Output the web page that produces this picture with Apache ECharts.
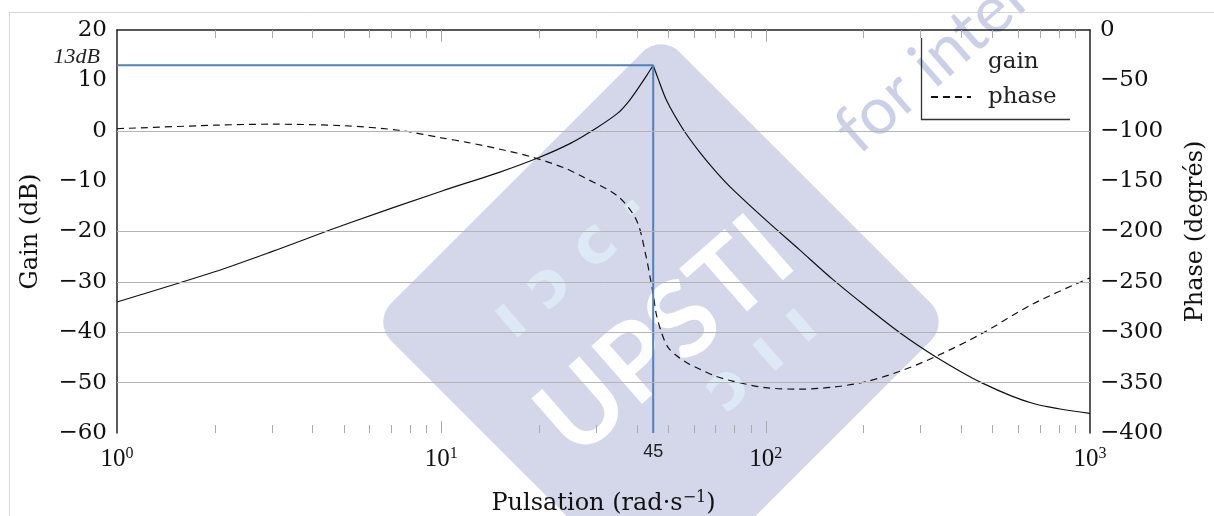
<!DOCTYPE html>
<html>
<head>
<meta charset="utf-8">
<title>Bode</title>
<script src="https://cdn.jsdelivr.net/npm/echarts@6/dist/echarts.min.js"></script>
<style>
  html, body { margin: 0; padding: 0; background: #fff; }
  #chart { width: 1214px; height: 516px; }
</style>
</head>
<body>
<div id="chart"></div>
<script>
// gain curve (dB) vs pulsation (rad/s)
const omegaGain = [1, 2, 3, 5, 10, 15, 20, 25, 30, 35, 38, 41, 43, 45, 46.5, 49.5, 55.5, 62.5, 70, 79, 100, 127, 161, 204, 258, 335, 466, 665, 1000]
const gainDb = [-34, -28, -24, -18.7, -12, -8.3, -5.3, -2.5, 0.5, 3.5, 6, 9, 11, 13, 10.5, 6, 0.4, -4.2, -8, -11.6, -17.7, -23.6, -29.5, -34.9, -40, -44.9, -50.1, -54.1, -56.1]

// phase curve (degrees)
const omegaPhase = [1, 2, 3, 5, 7.4, 10, 12, 15, 19, 24, 27, 35, 40, 42.8, 44, 45, 46, 47.7, 50, 54, 58, 62.5, 70, 79, 100, 127, 161, 204, 258, 335, 466, 665, 1000]
const phaseDeg = [-98, -94.5, -93.5, -95, -99.5, -107, -111.5, -118, -126, -137, -145, -165, -189, -225, -245, -262, -282, -300, -315, -325, -331.5, -336.5, -343.5, -348.5, -355, -356.5, -354.5, -349, -339, -324, -301, -272, -246]

// resonance marker
const peakOmega = 45
const peakDb = 13

// horizontal grid levels drawn in the figure (dB)
const gridDb = [0, -20, -30, -40, -50]

// x ticks
const minorTicks = [2, 3, 4, 5, 6, 7, 8, 9, 20, 30, 40, 50, 60, 70, 80, 90, 200, 300, 400, 500, 600, 700, 800, 900]
const majorTicks = [10, 100]

const serif = 'DejaVu Serif'
const minus = v => (v < 0 ? '\u2212' + Math.abs(v) : String(v))

const gainPts = omegaGain.map((w, i) => [w, gainDb[i]])
const gainRise = gainPts.filter(p => p[0] <= peakOmega)
const gainFall = gainPts.filter(p => p[0] >= peakOmega)

const chart = echarts.init(document.getElementById('chart'))

function renderTick(params, api) {
  const w = api.value(0)
  const len = api.value(1) ? 12 : 8
  const b = api.coord([w, -60])
  const t = api.coord([w, 20])
  const x = Math.round(b[0]) + 0.5
  return {
    type: 'group',
    children: [
      { type: 'line', shape: { x1: x, y1: b[1], x2: x, y2: b[1] - len }, style: { stroke: '#aaaaaa', lineWidth: 1 } },
      { type: 'line', shape: { x1: x, y1: t[1], x2: x, y2: t[1] + len }, style: { stroke: '#aaaaaa', lineWidth: 1 } }
    ]
  }
}

const gainLine = { color: '#111', width: 1.2 }

const option = {
  animation: false,
  backgroundColor: '#fff',
  grid: { left: 117, right: 124, top: 30, bottom: 83, outerBoundsMode: 'none', containLabel: false },
  graphic: [
    { type: 'line', shape: { x1: 9, y1: 12.5, x2: 1214, y2: 12.5 }, style: { stroke: '#d6d6d6', lineWidth: 1 }, z: 0 },
    { type: 'line', shape: { x1: 9.5, y1: 12.5, x2: 9.5, y2: 516 }, style: { stroke: '#d6d6d6', lineWidth: 1 }, z: 0 },
    {
      type: 'group', x: 661, y: 322, rotation: Math.PI / 4, z: 0,
      children: [
        { type: 'rect', shape: { x: -204, y: -204, width: 408, height: 408, r: 26 }, style: { fill: '#d4d7e9' } }
      ]
    },
    {
      type: 'group', x: 661, y: 320, rotation: 0.72, z: 0,
      children: [
        { type: 'text', x: -8, y: 16, style: { text: 'UPSTI', fill: '#ffffff', font: 'bold 106px Lato', align: 'center', verticalAlign: 'middle' } },
        { type: 'text', x: -30, y: -98, style: { text: 'ı ɔ c ·', fill: '#dde9f5', font: 'bold 64px "DejaVu Sans"', align: 'center', verticalAlign: 'middle' } },
        { type: 'text', x: 50, y: 97, style: { text: 'ɔ ı ı', fill: '#dde9f5', font: 'bold 64px "DejaVu Sans"', align: 'center', verticalAlign: 'middle' } }
      ]
    },
    {
      type: 'text', x: 845, y: 140, rotation: 0.72, z: 0,
      style: { text: 'for internal use', fill: '#cbd0e8', font: '66px Lato', align: 'left', verticalAlign: 'middle' }
    },
    {
      type: 'polyline', z: 10,
      shape: { points: [[921.5, 38], [921.5, 119.5], [1070, 119.5]] },
      style: { stroke: '#333', lineWidth: 1.3, fill: null }
    }
  ],
  legend: {
    orient: 'vertical',
    left: 930,
    top: 49,
    padding: 0,
    itemGap: 9,
    itemWidth: 40,
    itemHeight: 14,
    textStyle: { fontFamily: serif, fontSize: 23, color: '#222', lineHeight: 26, padding: [0, 0, 0, 12] },
    data: [
      { name: 'gain', lineStyle: { opacity: 0 }, itemStyle: { opacity: 0 } },
      { name: 'phase', itemStyle: { opacity: 0 } }
    ]
  },
  xAxis: [
    {
      type: 'log', logBase: 10, min: 1, max: 1000, position: 'bottom', z: 5,
      axisLine: { show: false, onZero: false },
      axisTick: { show: false },
      splitLine: { show: false },
      axisLabel: {
        margin: 13,
        formatter: v => '{b|10}{s|' + Math.round(Math.log10(v)) + '}',
        rich: {
          b: { fontFamily: 'Liberation Serif', fontSize: 25, color: '#111', lineHeight: 26 },
          s: { fontFamily: 'Liberation Serif', fontSize: 16, color: '#111', lineHeight: 14, verticalAlign: 'top' }
        }
      },
      name: 'Pulsation (rad·s{s|\u22121})',
      nameLocation: 'middle',
      nameGap: 57,
      nameTextStyle: {
        fontFamily: serif, fontSize: 24, color: '#111', lineHeight: 28,
        rich: { s: { fontFamily: serif, fontSize: 16, color: '#111', lineHeight: 14, verticalAlign: 'top' } }
      }
    },
    {
      type: 'log', logBase: 10, min: 1, max: 1000, position: 'top',
      axisLine: { show: true, onZero: false, lineStyle: { color: '#222', width: 1.5 } },
      axisTick: { show: false },
      axisLabel: { show: false },
      splitLine: { show: false }
    }
  ],
  yAxis: [
    {
      type: 'value', min: -60, max: 20, interval: 10, position: 'left',
      axisLine: { show: true, onZero: false, lineStyle: { color: '#222', width: 1.5 } },
      axisTick: { show: false },
      splitLine: { show: false },
      axisLabel: { margin: 10, fontFamily: serif, fontSize: 23, color: '#111', formatter: minus },
      name: 'Gain (dB)',
      nameLocation: 'middle',
      nameRotate: 90,
      nameGap: 74,
      nameTextStyle: { fontFamily: serif, fontSize: 24, color: '#111' }
    },
    {
      type: 'value', min: -400, max: 0, interval: 50, position: 'right',
      axisLine: { show: true, onZero: false, lineStyle: { color: '#222', width: 1.5 } },
      axisTick: { show: false },
      splitLine: { show: false },
      axisLabel: { margin: 10, fontFamily: serif, fontSize: 23, color: '#111', formatter: minus },
      name: 'Phase (degrés)',
      nameLocation: 'middle',
      nameRotate: 90,
      nameGap: 94,
      nameTextStyle: { fontFamily: serif, fontSize: 24, color: '#111' }
    }
  ],
  series: [
    {
      type: 'custom',
      xAxisIndex: 0,
      yAxisIndex: 0,
      silent: true,
      z: 1,
      renderItem: renderTick,
      data: minorTicks.map(w => [w, 0]).concat(majorTicks.map(w => [w, 1]))
    },
    {
      name: 'gain',
      type: 'line',
      xAxisIndex: 0,
      yAxisIndex: 0,
      z: 3,
      symbol: 'none',
      smooth: 0.3,
      lineStyle: gainLine,
      itemStyle: { color: '#111' },
      data: gainRise,
      markLine: {
        silent: true,
        symbol: 'none',
        label: { show: false },
        lineStyle: { color: '#b4b4b4', width: 1, type: 'solid' },
        data: gridDb.map(v => ({ yAxis: v }))
      }
    },
    {
      name: 'gain',
      type: 'line',
      xAxisIndex: 0,
      yAxisIndex: 0,
      z: 3,
      symbol: 'none',
      smooth: 0.3,
      lineStyle: gainLine,
      itemStyle: { color: '#111' },
      data: gainFall
    },
    {
      name: 'phase',
      type: 'line',
      xAxisIndex: 0,
      yAxisIndex: 1,
      z: 3,
      symbol: 'none',
      smooth: 0.3,
      lineStyle: { color: '#111', width: 1.2, type: [7, 5] },
      itemStyle: { color: '#111' },
      data: omegaPhase.map((w, i) => [w, phaseDeg[i]])
    },
    {
      name: 'marker',
      type: 'line',
      xAxisIndex: 0,
      yAxisIndex: 0,
      z: 4,
      symbol: 'circle',
      symbolSize: 0,
      showSymbol: true,
      lineStyle: { color: '#4f81bd', width: 2 },
      itemStyle: { color: '#4f81bd' },
      data: [
        {
          value: [1, peakDb],
          label: {
            show: true, position: 'left', distance: 17, offset: [0, -8],
            formatter: peakDb + 'dB',
            fontFamily: 'Liberation Serif', fontStyle: 'italic', fontSize: 22, color: '#222'
          }
        },
        { value: [peakOmega, peakDb] },
        {
          value: [peakOmega, -60],
          label: {
            show: true, position: 'bottom', distance: 10,
            formatter: String(peakOmega),
            fontFamily: 'Liberation Sans', fontSize: 18, color: '#222'
          }
        }
      ]
    }
  ]
}

chart.setOption(option)
</script>
</body>
</html>
